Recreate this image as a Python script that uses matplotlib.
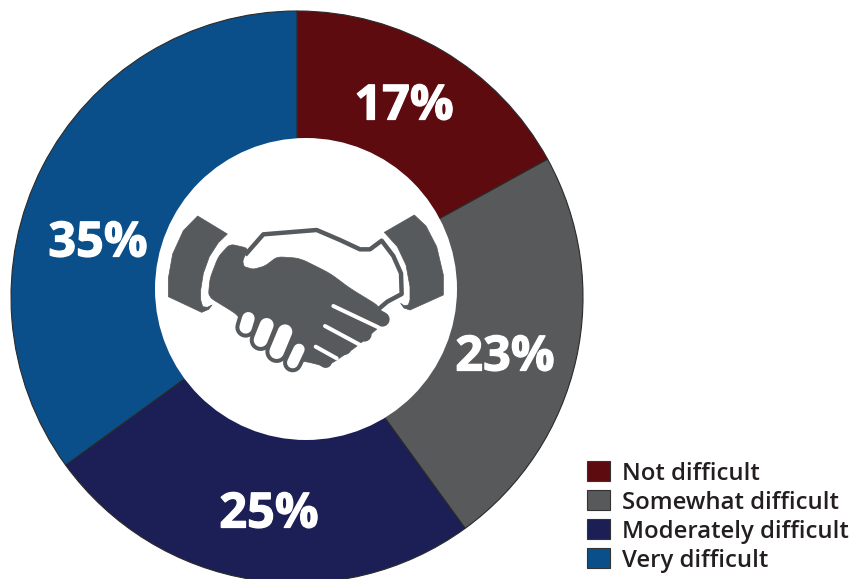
import matplotlib
matplotlib.use("Agg")
import matplotlib.pyplot as plt
import matplotlib.patheffects as pe
from matplotlib.patches import Polygon, Rectangle, Circle

categories = ["Not difficult", "Somewhat difficult", "Moderately difficult", "Very difficult"]
shares = [17, 23, 25, 35]
colors = ["#5e0b0f", "#58595b", "#1b1f55", "#0b4f8a"]

W, H = 853, 579
ICON = "#565a5c"

fig = plt.figure(figsize=(W / 100, H / 100), dpi=100)
ax = fig.add_axes([0, 0, 1, 1])

ax.pie(
    shares,
    colors=colors,
    startangle=90,
    counterclock=False,
    radius=286,
    center=(297, H - 297),
    wedgeprops=dict(edgecolor="#2a2a2a", linewidth=0.8),
)
ax.set_xlim(0, W)
ax.set_ylim(0, H)
ax.set_aspect("equal")
ax.axis("off")

# The hole is a separate circle sitting slightly off the pie's centre
ax.add_patch(Circle((306, H - 289), 151, facecolor="white", edgecolor="none", zorder=3))


def icon_xy(points):
    # icon outlines are written at 3x scale from the top left of its box
    return [(150 + x / 3, H - (190 + y / 3)) for x, y in points]


def smooth(points, rounds=2):
    # Chaikin corner cutting on a closed outline
    for _ in range(rounds):
        out = []
        for i, (x0, y0) in enumerate(points):
            x1, y1 = points[(i + 1) % len(points)]
            out.append((0.85 * x0 + 0.15 * x1, 0.85 * y0 + 0.15 * y1))
            out.append((0.15 * x0 + 0.85 * x1, 0.15 * y0 + 0.85 * y1))
        points = out
    return points


def fill_shape(points, color=ICON, z=4):
    ax.add_patch(Polygon(icon_xy(points), closed=True, facecolor=color, edgecolor=color,
                         linewidth=0.5, joinstyle="round", zorder=z))


def capsule(x0, y0, x1, y1, width, color, z):
    # width is in icon units, 3 per pixel; linewidth is in points
    pts = icon_xy([(x0, y0), (x1, y1)])
    ax.plot(*zip(*pts), color=color, lw=width / 3 * 0.72, solid_capstyle="round", zorder=z)


# Cuffs
left_cuff = [(143, 78), (232, 132), (205, 158), (178, 200), (160, 250), (152, 300), (152, 330),
             (158, 350), (172, 352), (186, 345), (176, 358), (155, 367), (55, 320), (55, 265),
             (68, 192), (100, 122)]
right_cuff = [(793, 75), (703, 127), (742, 170), (768, 225), (780, 290), (780, 330), (775, 345),
              (762, 347), (752, 340), (762, 354), (780, 360), (880, 315), (880, 255), (860, 170),
              (828, 108)]
fill_shape(left_cuff)
fill_shape(right_cuff)

# Lower hand, the fingers are added on top of it
lower_hand = [(240, 162), (295, 175), (278, 212), (282, 230), (310, 238), (345, 228), (382, 200),
              (450, 205), (540, 250), (600, 295), (690, 350), (700, 400), (620, 470), (530, 530),
              (470, 515), (420, 510), (300, 420), (258, 372), (240, 360), (175, 320), (180, 265),
              (205, 200)]
fill_shape(smooth(lower_hand))
for x0, y0, x1, y1, w in [(620, 345, 697, 388, 44), (560, 385, 643, 433, 44),
                          (530, 440, 583, 473, 44), (490, 490, 527, 515, 38)]:
    capsule(x0, y0, x1, y1, w, ICON, 4)

# Gaps between the lower hand's fingers
for x0, y0, x1, y1 in [(550, 348, 685, 412), (525, 408, 640, 470), (497, 470, 560, 505)]:
    capsule(x0, y0, x1, y1, 12, "white", 5)

# Upper hand outline running from the thumb to the wrist
upper_hand = [(290, 190), (340, 133), (500, 120), (570, 150), (630, 178), (660, 178), (695, 152),
              (730, 198), (753, 250), (755, 312), (712, 335), (692, 352)]
ax.plot(*zip(*icon_xy(upper_hand)), color=ICON, lw=3.2, solid_joinstyle="round", zorder=4)

# Fingertips of the upper hand, dark rim first
fingertips = [(295, 385, 287, 412, 38), (350, 405, 332, 450, 42),
              (405, 425, 380, 485, 44), (447, 478, 428, 518, 34)]
for x0, y0, x1, y1, w in fingertips:
    capsule(x0, y0, x1, y1, w + 24, ICON, 4)
for x0, y0, x1, y1, w in fingertips:
    capsule(x0, y0, x1, y1, w, "white", 6)

# Percent labels
label_xy = [(404, 107), (505, 358), (269, 515), (98, 244)]
for (x, y), share in zip(label_xy, shares):
    ax.text(x, H - y, f"{share}%", color="white", fontsize=35, fontweight="bold",
            family="Open Sans", ha="center", va="center", zorder=7,
            path_effects=[pe.withStroke(linewidth=0.9, foreground="white")])

# Legend
row_y = [471, 500, 529, 558]
for y, name, c in zip(row_y, categories, colors):
    ax.add_patch(Rectangle((587, H - y - 10), 23, 20, facecolor=c, edgecolor="#333333", linewidth=0.8, zorder=6))
    ax.text(622, H - y - 3, name, color="#231f20", fontsize=17.2, fontweight="semibold",
            family="Open Sans", ha="left", va="center", zorder=6)

fig.savefig("out.png", dpi=100)
